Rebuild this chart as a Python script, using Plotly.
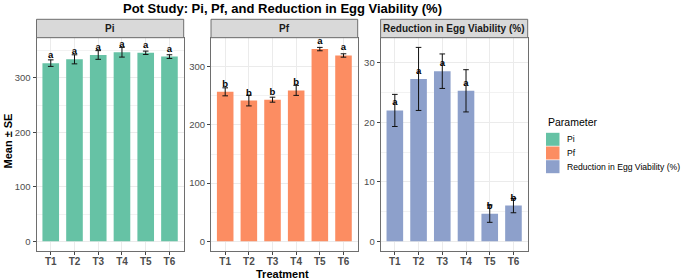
import plotly.graph_objects as go

# ---------------- data ----------------
treatments = ["T1", "T2", "T3", "T4", "T5", "T6"]

pi_mean = [327, 334, 342, 347, 346, 339]
pi_se = [6.0, 8.3, 8.0, 8.9, 3.1, 3.4]
pi_letters = ["a", "a", "a", "a", "a", "a"]

pf_mean = [257, 242, 243.5, 259.5, 330.5, 319.5]
pf_se = [6.9, 9.2, 4.3, 8.6, 2.9, 2.9]
pf_letters = ["b", "b", "b", "b", "a", "a"]

red_mean = [22.0, 27.3, 28.6, 25.3, 4.65, 6.0]
red_se = [2.7, 5.3, 2.9, 3.55, 1.46, 1.2]
red_letters = ["a", "a", "a", "a", "b", "b"]

panel_names = ["Pi", "Pf", "Reduction in Egg Viability (%)"]
colors = ["#66C2A5", "#FC8D62", "#8DA0CB"]
y_major = [100, 100, 10]

# ---------------- layout helpers ----------------
W, H = 685, 280
FONT = "Liberation Sans, Arial, sans-serif"


def px(x):
    return x / W


def py(y):
    return 1 - y / H


x_domains = [(36.5, 183.7), (211.0, 357.7), (380.6, 527.7)]
plot_top, plot_bottom, strip_top = 37.7, 251.0, 19.3
border_col = "#6E6E6E"
grid_col = "#EBEBEB"

series = [
    (pi_mean, pi_se, pi_letters),
    (pf_mean, pf_se, pf_letters),
    (red_mean, red_se, red_letters),
]

fig = go.Figure()
shapes = []
annotations = []
layout_axes = {}

for i, ((means, ses, letters), name, col, dt) in enumerate(zip(series, panel_names, colors, y_major)):
    n = "" if i == 0 else str(i + 1)
    xa, ya = "x" + n, "y" + n
    fig.add_trace(go.Bar(
        x=treatments, y=means, name=name, marker=dict(color=col, line=dict(width=0)),
        width=0.7, xaxis=xa, yaxis=ya, showlegend=False,
        error_y=dict(type="data", array=ses, visible=True, color="#111111", thickness=1, width=2.8),
    ))
    top = max(m + s for m, s in zip(means, ses))
    fig.add_trace(go.Scatter(
        x=treatments, y=[m + 0.038 * top for m in means], text=letters, mode="text",
        textposition="middle center", textfont=dict(family=FONT, size=9.5, color="#000000", weight="bold"),
        xaxis=xa, yaxis=ya, showlegend=False, hoverinfo="skip",
    ))
    layout_axes["xaxis" + n] = dict(
        domain=[px(x_domains[i][0]), px(x_domains[i][1])], anchor=ya, type="category",
        range=[-0.6, 5.6], showgrid=True, gridcolor=grid_col, gridwidth=1.1,
        showline=True, mirror=True, linecolor=border_col, linewidth=1,
        ticks="outside", ticklen=3, tickcolor="#444444", tickwidth=1,
        tickfont=dict(family=FONT, size=10, color="#4D4D4D", weight="bold"),
        ticklabelstandoff=-2,
        zeroline=False, fixedrange=True,
    )
    layout_axes["yaxis" + n] = dict(
        domain=[py(plot_bottom), py(plot_top)], anchor=xa,
        range=[-0.05 * top, 1.05 * top], tickmode="linear", tick0=0, dtick=dt,
        showgrid=True, gridcolor=grid_col, gridwidth=1.1,
        minor=dict(tick0=0, dtick=dt / 2, showgrid=True, gridcolor="#F2F2F2", gridwidth=0.6, ticklen=0),
        showline=True, mirror=True, linecolor=border_col, linewidth=1,
        ticks="outside", ticklen=3, tickcolor="#444444", tickwidth=1,
        tickfont=dict(family=FONT, size=9.5, color="#4D4D4D"),
        zeroline=False, fixedrange=True,
    )
    # facet strip
    shapes.append(dict(
        type="rect", xref="paper", yref="paper",
        x0=px(x_domains[i][0]), x1=px(x_domains[i][1]), y0=py(plot_top), y1=py(strip_top),
        fillcolor="#D9D9D9", line=dict(color=border_col, width=1), layer="above",
    ))
    annotations.append(dict(
        text=name, xref="paper", yref="paper",
        x=px((x_domains[i][0] + x_domains[i][1]) / 2), y=py((plot_top + strip_top) / 2),
        xanchor="center", yanchor="middle", showarrow=False,
        font=dict(family=FONT, size=10, color="#1A1A1A", weight="bold"),
    ))

# title & axis titles
annotations.append(dict(
    text="Pot Study: Pi, Pf, and Reduction in Egg Viability (%)", xref="paper", yref="paper",
    x=px(282.5), y=py(8), xanchor="center", yanchor="middle", showarrow=False,
    font=dict(family=FONT, size=13, color="#000000", weight="bold"),
))
annotations.append(dict(
    text="Treatment", xref="paper", yref="paper", x=px(282), y=py(274),
    xanchor="center", yanchor="middle", showarrow=False,
    font=dict(family=FONT, size=11, color="#000000", weight="bold"),
))
annotations.append(dict(
    text="Mean ± SE", xref="paper", yref="paper", x=px(7.5), y=py(141),
    xanchor="center", yanchor="middle", showarrow=False, textangle=-90,
    font=dict(family=FONT, size=11, color="#000000", weight="bold"),
))

# legend (drawn in ggplot style)
annotations.append(dict(
    text="Parameter", xref="paper", yref="paper", x=px(545.5), y=py(121.7),
    xanchor="left", yanchor="middle", showarrow=False,
    font=dict(family=FONT, size=10.5, color="#000000"),
))
row_y = [139.3, 153.0, 166.7]
for name, col, ry in zip(panel_names, colors, row_y):
    shapes.append(dict(
        type="rect", xref="paper", yref="paper",
        x0=px(546), x1=px(559.5), y0=py(ry + 6.5), y1=py(ry - 6.5),
        fillcolor=col, line=dict(width=0),
    ))
    annotations.append(dict(
        text=name, xref="paper", yref="paper", x=px(564.5), y=py(ry),
        xanchor="left", yanchor="middle", showarrow=False,
        font=dict(family=FONT, size=8.6, color="#000000"),
    ))

fig.update_layout(
    width=W, height=H, margin=dict(l=0, r=0, t=0, b=0),
    paper_bgcolor="white", plot_bgcolor="white",
    font=dict(family=FONT), showlegend=False, bargap=0.3,
    shapes=shapes, annotations=annotations, **layout_axes,
)

fig.write_html(
    "out.html",
    config={"displayModeBar": False},
    post_script="document.body.style.margin='0';document.body.style.overflow='hidden';",
)
